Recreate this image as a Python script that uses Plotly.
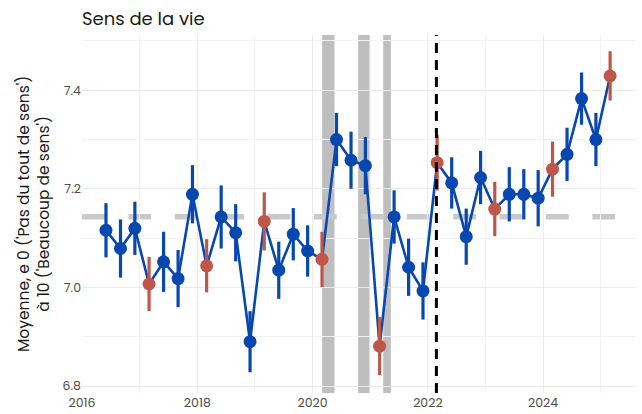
import numpy as np
import plotly.graph_objects as go

# ---- data ----
dates = ["2016-06-01", "2016-09-01", "2016-12-01",
         "2017-03-01", "2017-06-01", "2017-09-01", "2017-12-01",
         "2018-03-01", "2018-06-01", "2018-09-01", "2018-12-01",
         "2019-03-01", "2019-06-01", "2019-09-01", "2019-12-01",
         "2020-03-01", "2020-06-01", "2020-09-01", "2020-12-01",
         "2021-03-01", "2021-06-01", "2021-09-01", "2021-12-01",
         "2022-03-01", "2022-06-01", "2022-09-01", "2022-12-01",
         "2023-03-01", "2023-06-01", "2023-09-01", "2023-12-01",
         "2024-03-01", "2024-06-01", "2024-09-01", "2024-12-01",
         "2025-03-01"]
moyenne = [7.116, 7.079, 7.120, 7.007, 7.052, 7.018, 7.189, 7.044, 7.143, 7.111,
           6.890, 7.134, 7.035, 7.108, 7.074, 7.057, 7.300, 7.258, 7.247, 6.881,
           7.143, 7.041, 6.993, 7.253, 7.212, 7.103, 7.223, 7.159, 7.189, 7.189,
           7.181, 7.240, 7.270, 7.383, 7.300, 7.429]
erreur = [0.055, 0.059, 0.054, 0.055, 0.061, 0.058, 0.059, 0.054, 0.064, 0.058,
          0.062, 0.059, 0.058, 0.053, 0.052, 0.056, 0.054, 0.058, 0.058, 0.059,
          0.054, 0.058, 0.058, 0.056, 0.052, 0.057, 0.054, 0.055, 0.055, 0.051,
          0.057, 0.056, 0.054, 0.053, 0.054, 0.050]
confinements = [("2020-03-02", "2020-05-19"),
                ("2020-10-16", "2020-12-27"),
                ("2021-03-24", "2021-05-11")]
evenement = "2022-02-24"
x_ticks = ["2016", "2018", "2020", "2022", "2024"]
y_ticks = [6.8, 7.0, 7.2, 7.4]

# ---- styles ----
BLUE = "#0747b0"
RED = "#c0564a"
FONT = "Poppins, Open Sans, sans-serif"
GRID = "#ebebeb"
W, H = 642, 414
ML, MR, MT, MB = 82, 6, 35, 21

is_march = [d[5:7] == "03" for d in dates]
idx_b = [i for i, m in enumerate(is_march) if not m]
idx_r = [i for i, m in enumerate(is_march) if m]
moyenne_globale = float(np.mean(moyenne))

fig = go.Figure()

fig.add_trace(go.Scatter(x=dates, y=moyenne, mode="lines",
                         line=dict(color=BLUE, width=2.6), hoverinfo="skip",
                         showlegend=False))
for idx, col in ((idx_b, BLUE), (idx_r, RED)):
    fig.add_trace(go.Scatter(
        x=[dates[i] for i in idx], y=[moyenne[i] for i in idx],
        mode="markers",
        marker=dict(color=col, size=13, line=dict(width=0)),
        error_y=dict(type="data", array=[erreur[i] for i in idx],
                     color=col, thickness=3.2, width=0),
        showlegend=False))

shapes = []
for a, b in confinements:
    shapes.append(dict(type="rect", xref="x", yref="paper", x0=a, x1=b, y0=0, y1=1,
                       fillcolor="#bebebe", line=dict(width=0), layer="below"))
shapes.append(dict(type="line", xref="paper", yref="y", x0=0, x1=1,
                   y0=moyenne_globale, y1=moyenne_globale,
                   line=dict(color="#c9c9c9", width=5.5, dash="22.7px,23.7px"),
                   layer="below"))
shapes.append(dict(type="line", xref="x", yref="paper", x0=evenement, x1=evenement,
                   y0=0, y1=1, line=dict(color="black", width=3, dash="10px,7px"),
                   layer="above"))

fig.update_layout(
    width=W, height=H,
    margin=dict(l=ML, r=MR, t=MT, b=MB, autoexpand=False),
    paper_bgcolor="white", plot_bgcolor="white",
    font=dict(family=FONT, color="#222222"),
    title=dict(text="Sens de la vie", x=0, xref="paper", xanchor="left",
               y=1 - 18.5 / H, yref="container", yanchor="middle",
               font=dict(size=18, color="#1a1a1a", family=FONT)),
    shapes=shapes,
    showlegend=False,
)
fig.update_xaxes(type="date", range=["2016-01-01", "2025-08-12"],
                 tickvals=[t + "-01-01" for t in x_ticks], ticktext=x_ticks,
                 showgrid=True, gridcolor=GRID, gridwidth=1.1,
                 minor=dict(dtick="M12", tick0="2016-01-01", showgrid=True,
                            gridcolor="#f3f3f3", gridwidth=0.8),
                 zeroline=False, showline=False, ticks="", automargin=False,
                 tickfont=dict(size=12.5, color="#4d4d4d", family=FONT),
                 ticklabelstandoff=0)
fig.update_yaxes(range=[6.786, 7.512], tickvals=y_ticks,
                 ticktext=[f"{v:.1f}" for v in y_ticks],
                 showgrid=True, gridcolor=GRID, gridwidth=1.1,
                 minor=dict(dtick=0.1, tick0=6.8, showgrid=True,
                            gridcolor="#f3f3f3", gridwidth=0.8),
                 zeroline=False, showline=False, ticks="", automargin=False,
                 tickfont=dict(size=12.5, color="#4d4d4d", family=FONT))

fig.add_annotation(xref="paper", yref="paper", x=(33 - ML) / (W - ML - MR), y=0.5,
                   xanchor="center", yanchor="middle", textangle=-90,
                   text="Moyenne, e 0 ('Pas du tout de sens')<br>à 10 ('Beaucoup de sens')",
                   showarrow=False, align="center",
                   font=dict(size=15.5, color="#1a1a1a", family=FONT))

# remove the default 8px page margin so the 642x414 figure fills the window
fig.write_html("out.html", config={"displayModeBar": False},
               post_script="document.body.style.margin='0';document.body.style.overflow='hidden';")
